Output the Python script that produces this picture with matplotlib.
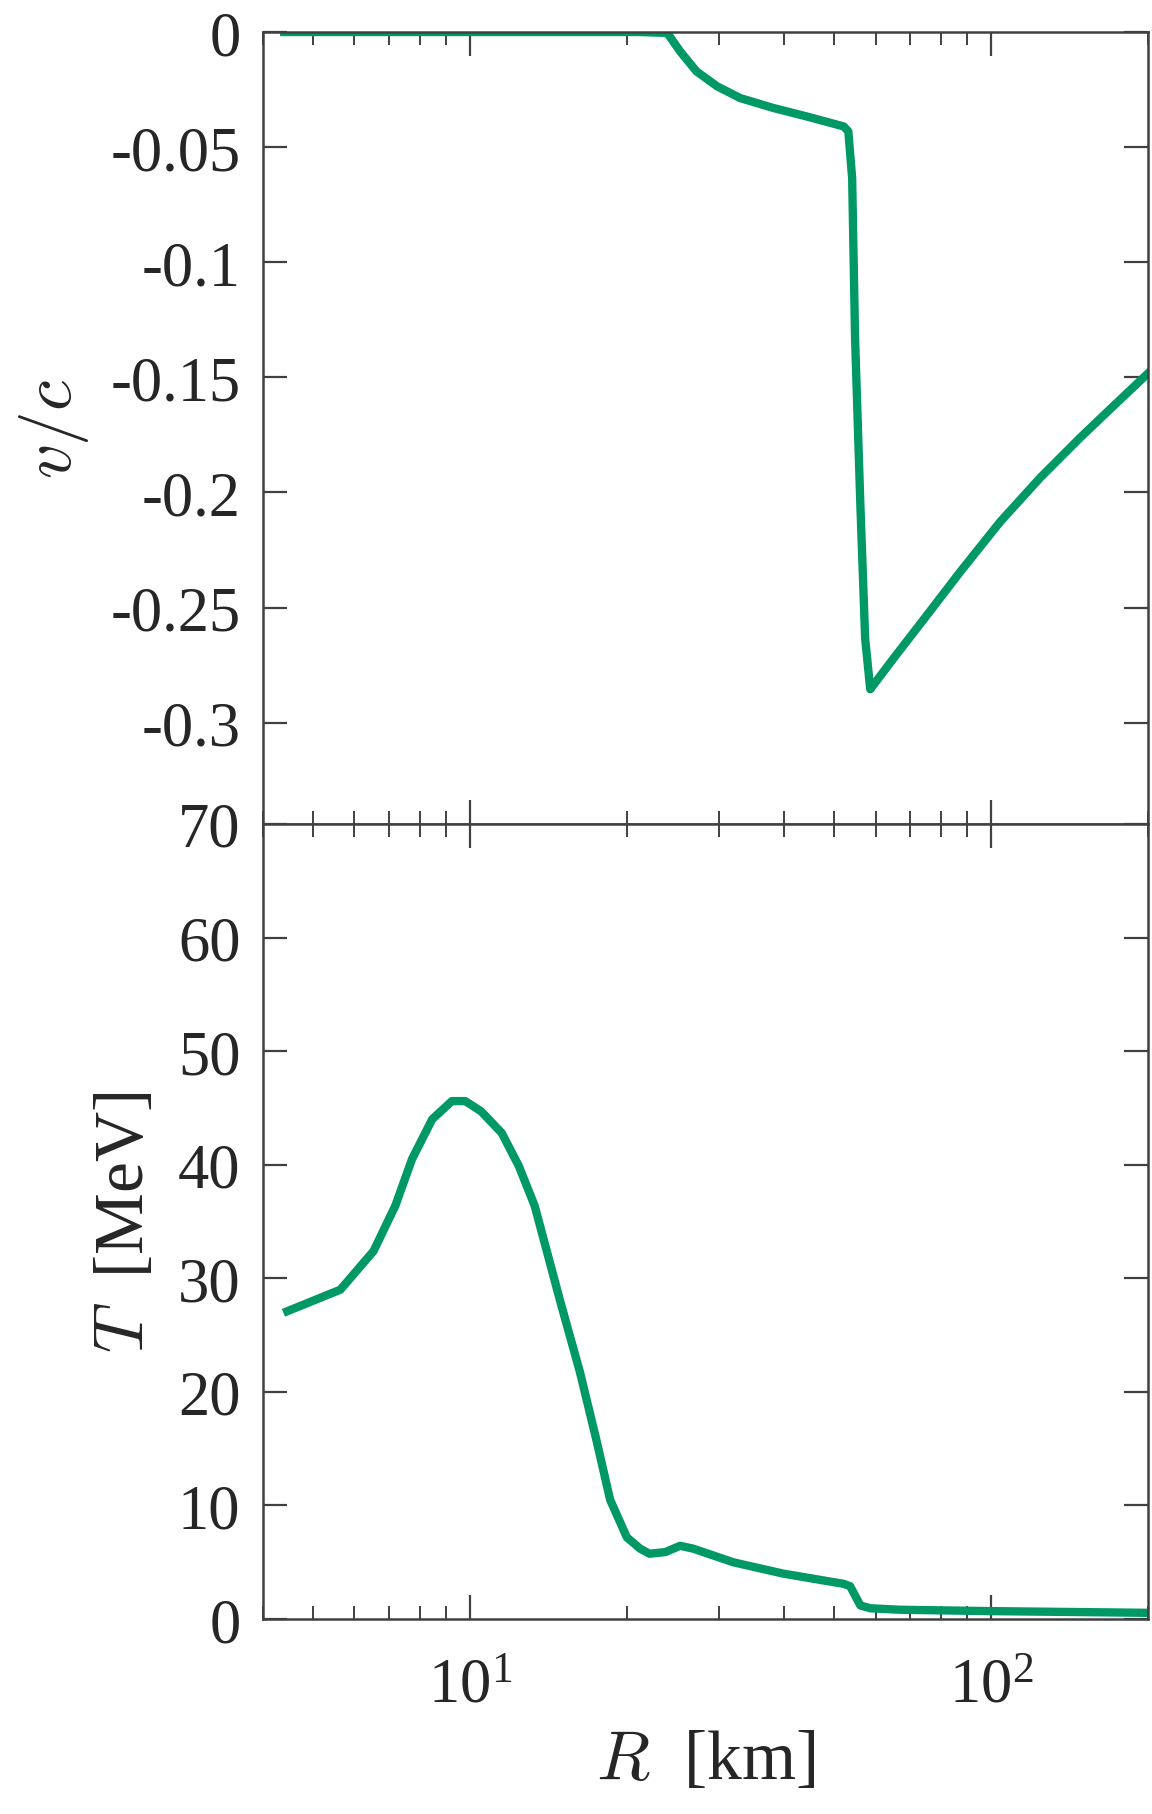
import matplotlib
matplotlib.use('Agg')
import matplotlib.pyplot as plt
from matplotlib.ticker import FuncFormatter, LogLocator, FixedLocator

plt.rcParams['font.family'] = ['Liberation Serif', 'DejaVu Serif']
plt.rcParams['mathtext.fontset'] = 'cm'
plt.rcParams['axes.unicode_minus'] = False

# velocity profile (top panel)
R_v = [4.4, 21.2, 23.9, 25.3, 27.2, 29.8, 33.0, 38.2, 44.3, 52.1, 53.2, 54.1,
       54.8, 56.1, 57.3, 58.6, 64.9, 75.3, 87.2, 104.1, 124.2, 148.2, 173.0,
       202.0]
v_c = [0, 0, -0.0004, -0.0084, -0.0171, -0.0236, -0.0287, -0.033, -0.0367,
       -0.041, -0.0432, -0.0635, -0.133, -0.2055, -0.2635, -0.2855, -0.2722,
       -0.2533, -0.2345, -0.2127, -0.1936, -0.1762, -0.1617, -0.1473]

# temperature profile (bottom panel)
R_T = [4.46, 5.64, 6.53, 7.19, 7.74, 8.46, 9.23, 9.79, 10.5, 11.5, 12.4, 13.3,
       13.83, 14.89, 16.26, 17.51, 18.57, 19.99, 21.2, 22.1, 23.7, 25.3, 26.8,
       32.0, 39.9, 52.1, 53.6, 56.1, 58.6, 66.9, 100, 200]
T_MeV = [27.1, 29.0, 32.4, 36.4, 40.5, 44.0, 45.6, 45.6, 44.7, 42.8, 39.9, 36.4,
         33.5, 28.0, 21.7, 15.6, 10.5, 7.2, 6.2, 5.75, 5.9, 6.45, 6.2,
         5.0, 4.0, 3.1, 2.9, 1.2, 0.95, 0.82, 0.7, 0.55]

v_ticks = [0, -0.05, -0.1, -0.15, -0.2, -0.25, -0.3]
T_ticks = [0, 10, 20, 30, 40, 50, 60, 70]

green = '#009966'
txt = '#262626'
spine = '#404040'

fig = plt.figure(figsize=(11.52, 18.15), dpi=100)
ax1 = fig.add_axes([0.228, 0.5455, 0.7686, 0.4363])
ax2 = fig.add_axes([0.228, 0.1074, 0.7686, 0.4381], sharex=ax1)

ax1.plot(R_v, v_c, color=green, lw=6)
ax2.plot(R_T, T_MeV, color=green, lw=6)

ax1.set_xscale('log')
ax1.set_xlim(4, 200)
ax1.set_ylim(-0.344, 0)
ax2.set_ylim(0, 70)

ax1.yaxis.set_major_locator(FixedLocator(v_ticks))
ax2.yaxis.set_major_locator(FixedLocator(T_ticks))
ax1.yaxis.set_major_formatter(FuncFormatter(lambda y, p: '%g' % y))
ax2.yaxis.set_major_formatter(FuncFormatter(lambda y, p: '%g' % y))
ax2.xaxis.set_major_locator(LogLocator(base=10))
ax2.xaxis.set_minor_locator(LogLocator(base=10, subs=range(2, 10)))

for ax in (ax1, ax2):
    for s in ax.spines.values():
        s.set_color(spine)
        s.set_linewidth(1.8)
    ax.tick_params(which='both', direction='in', top=True, right=True,
                   colors=spine, labelcolor=txt, labelsize=45, pad=16)
    ax.tick_params(which='major', length=17, width=1.6)
    ax.tick_params(which='minor', length=9.5, width=1.4)
ax1.tick_params(axis='x', labelbottom=False)
ax2.tick_params(axis='x', which='both', pad=28)

ax1.set_ylabel(r'$v/c$', fontsize=50, color=txt, labelpad=14)
ax2.set_ylabel(r'$T$  [MeV]', fontsize=50, color=txt, labelpad=14)
ax2.set_xlabel(r'$R$  [km]', fontsize=50, color=txt, labelpad=10)

fig.savefig('out.png', dpi=100)
